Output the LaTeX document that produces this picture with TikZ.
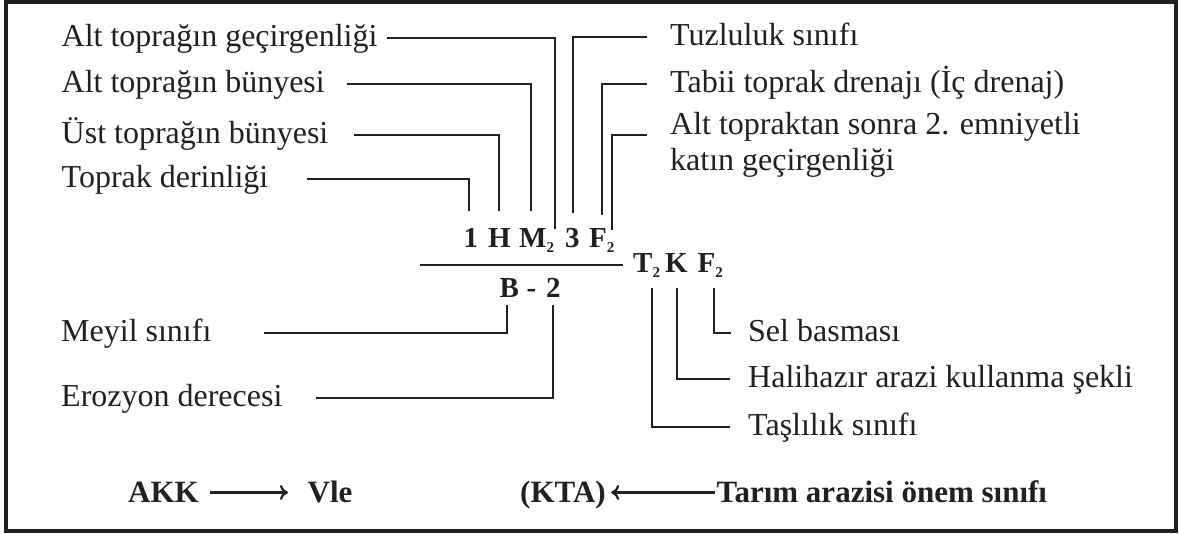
\documentclass[tikz,border=0pt]{standalone}
\usepackage{fontspec}
\setmainfont{Liberation Serif}
\usetikzlibrary{arrows.meta}
\definecolor{ink}{HTML}{231F20}
\newcommand\mysub[1]{\raisebox{-5bp}{\fontsize{15bp}{15bp}\selectfont #1}}
\tikzset{
  lbl/.style={inner sep=0pt, anchor=base west, text=ink,
    font=\fontsize{32bp}{36bp}\selectfont, text height=23bp, text depth=6bp},
  sym/.style={inner sep=0pt, anchor=base west, text=ink,
    font=\fontsize{29bp}{32bp}\selectfont\bfseries},
  bot/.style={inner sep=0pt, anchor=base west, text=ink,
    font=\fontsize{31bp}{34bp}\selectfont\bfseries, text height=20bp, text depth=1bp},
  conn/.style={draw=ink, line width=2.4bp, line cap=butt, line join=miter},
  arr/.style={draw=ink, line width=2.2bp, -{To[length=8bp,width=15bp]}},
  frame/.style={draw=ink, line width=4bp}
}
\begin{document}
\begin{tikzpicture}[x=1bp,y=-1bp]
\useasboundingbox (0,0) rectangle (1180,534);
\draw[frame] (6,2) rectangle (1175.5,531);

% top-left labels
\node[lbl] (t1) at (61.5,46.5) {Alt toprağın geçirgenliği};
\node[lbl] (t2) at (61.5,92.5) {Alt toprağın bünyesi};
\node[lbl] (t3) at (61.5,143.5) {Üst toprağın bünyesi};
\node[lbl] (t4) at (61.5,187.5) {Toprak derinliği};

% top-right labels
\node[lbl] (r1) at (670,45.5) {Tuzluluk sınıfı};
\node[lbl] (r2) at (670,92.5) {Tabii toprak drenajı (İç drenaj)};
\node[lbl] (r3a) at (670,135) {Alt topraktan sonra 2. emniyetli};
\node[lbl] (r3b) at (670,171) {katın geçirgenliği};

% numerator symbols
\node[sym] (n1) at (463.5,248) {1};
\node[sym] (nH) at (488,248) {H};
\node[sym] (nM) at (519,248) {M\mysub{2}};
\node[sym] (n3) at (565,248) {3};
\node[sym] (nF) at (589,248) {F\mysub{2}};

% fraction bar
\coordinate (fracL) at (420,265);
\coordinate (fracR) at (623,265);
\draw[conn] (fracL) -- (fracR);

% denominator
\node[sym] (dB) at (499.5,298) {B};
\node[sym] (dD) at (526.5,298) {-};
\node[sym] (d2) at (546,298) {2};

% right symbols
\node[sym] (sT) at (633,273) {T\mysub{2}};
\node[sym] (sK) at (665,273) {K};
\node[sym] (sF) at (697.5,273) {F\mysub{2}};

% lower-left labels
\node[lbl] (m1) at (61,341.5) {Meyil sınıfı};
\node[lbl] (m2) at (61,406.5) {Erozyon derecesi};

% lower-right labels
\node[lbl] (x1) at (748,341.5) {Sel basması};
\node[lbl] (x2) at (748,387.5) {Halihazır arazi kullanma şekli};
\node[lbl] (x3) at (748,435.5) {Taşlılık sınıfı};

% bottom row
\node[bot] (a1) at (128,502) {AKK};
\node[bot] (a2) at (307.5,502) {Vle};
\node[bot] (b1) at (520,502) {(KTA)};
\node[bot] (b2) at (716.5,502) {Tarım arazisi önem sınıfı};

% connector ends
\coordinate (e1) at (555,229);
\coordinate (e2) at (531,211);
\coordinate (e3) at (499,211);
\coordinate (e4) at (469,211);
\coordinate (e5) at (573,213);
\coordinate (e6) at (602,215);
\coordinate (e7) at (612,230);
\coordinate (bB) at (507,305);
\coordinate (b2c) at (553,305);
\coordinate (uT) at (652,288);
\coordinate (uK) at (677,288);
\coordinate (uF) at (714,288);

% connectors top-left
\draw[conn] ([xshift=9.6bp]t1.east) -| (e1);
\draw[conn] ([xshift=22bp]t2.east) -| (e2);
\draw[conn] ([xshift=25bp]t3.east) -| (e3);
\draw[conn] ([xshift=39bp]t4.east) -| (e4);

% connectors top-right
\draw[conn] ([xshift=-23bp]r1.west) -| (e5);
\draw[conn] ([xshift=-23bp]r2.west) -| (e6);
\draw[conn] ([xshift=-23bp]r3a.base west) -| (e7);

% connectors lower-left
\draw[conn] ([xshift=52bp]m1.east) -| (bB);
\draw[conn] ([xshift=33bp]m2.east) -| (b2c);

% connectors lower-right
\draw[conn] (uF) |- ([xshift=-17bp]x1.west);
\draw[conn] (uK) |- ([xshift=-18bp]x2.west);
\draw[conn] (uT) |- ([xshift=-18bp]x3.west);

% arrows
\draw[arr] ([xshift=11.4bp]a1.east) -- ([xshift=-19.5bp]a2.west);
\draw[arr] ([xshift=-1.5bp]b2.west) -- ([xshift=5.2bp]b1.east);
\end{tikzpicture}
\end{document}
